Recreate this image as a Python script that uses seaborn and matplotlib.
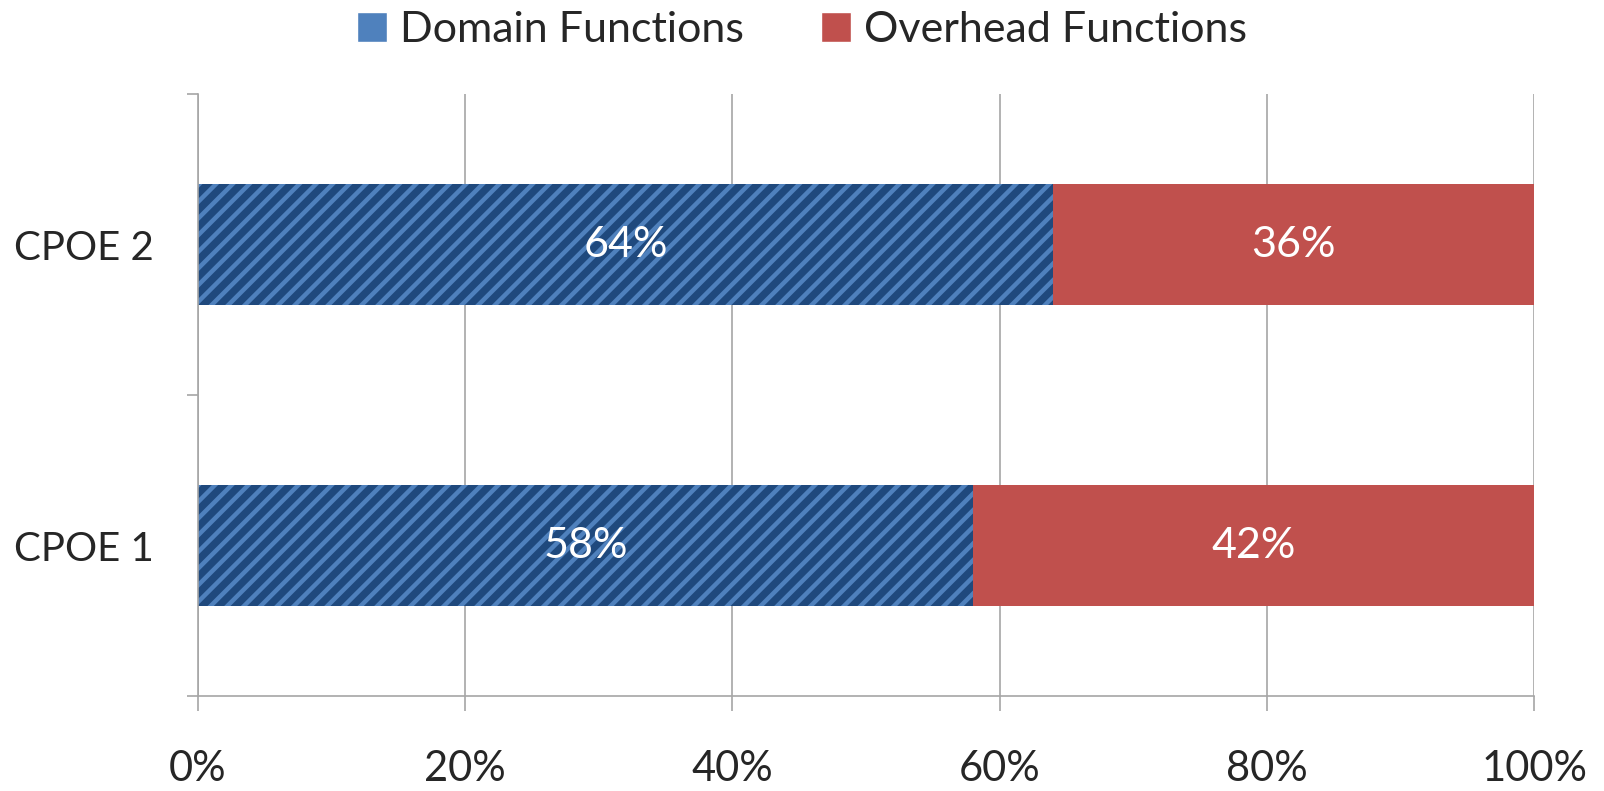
import matplotlib
matplotlib.use("Agg")
import matplotlib.pyplot as plt
import seaborn as sns
import pandas as pd
from matplotlib.patches import Patch
from matplotlib.ticker import FixedLocator, PercentFormatter

categories = ["CPOE 2", "CPOE 1"]
domain = [64, 58]
overhead = [36, 42]
series_names = ["Domain Functions", "Overhead Functions"]
xticks = [0, 20, 40, 60, 80, 100]

sns.set_style("white")
plt.rcParams["font.family"] = ["Lato", "DejaVu Sans"]
plt.rcParams["hatch.linewidth"] = 3.2

dark_blue = "#1f497d"
light_blue = "#4f81bd"
red = "#c0504d"
grid_grey = "#a6a6a6"

df = pd.DataFrame({"category": categories, "domain": domain, "overhead": overhead})
df["total"] = df["domain"] + df["overhead"]

fig = plt.figure(figsize=(16.04, 7.91), dpi=100)
ax = fig.add_axes([0.1234, 0.12, 0.833, 0.761])

# stacked: total (red) underneath, domain (hatched blue) over it
sns.barplot(data=df, y="category", x="total", order=categories, color=red,
            width=0.4, saturation=1, linewidth=0, ax=ax)
sns.barplot(data=df, y="category", x="domain", order=categories, color=dark_blue,
            width=0.4, saturation=1, linewidth=0, ax=ax)
for bar in ax.patches[len(categories):]:
    bar.set_hatch("//")
    bar.set_edgecolor(light_blue)
    bar.set_linewidth(0)

for i, (d, o) in enumerate(zip(domain, overhead)):
    ax.text(d / 2, i, f"{d}%", color="white", ha="center", va="center", fontsize=31)
    ax.text(d + o / 2, i, f"{o}%", color="white", ha="center", va="center", fontsize=31)

ax.set_xlim(0, 100)
ax.set_ylim(1.5, -0.5)
ax.set_xticks(xticks)
ax.xaxis.set_major_formatter(PercentFormatter(decimals=0))
ax.yaxis.set_minor_locator(FixedLocator([-0.5, 0.5, 1.5]))
ax.set_xlabel("")
ax.set_ylabel("")

ax.grid(axis="x", color=grid_grey, linewidth=1.2)
ax.set_axisbelow(True)
for side in ["top", "right"]:
    ax.spines[side].set_visible(False)
for side in ["left", "bottom"]:
    ax.spines[side].set_color(grid_grey)
    ax.spines[side].set_linewidth(1.2)

ax.tick_params(axis="x", which="major", direction="out", length=11, width=1.2,
               color=grid_grey, labelsize=30, pad=28, bottom=True)
ax.tick_params(axis="y", which="major", length=0, labelsize=29, pad=32)
ax.tick_params(axis="y", which="minor", direction="out", length=8, width=1.2,
               color=grid_grey, left=True)

handles = [Patch(facecolor=light_blue, label=series_names[0]),
           Patch(facecolor=red, label=series_names[1])]
fig.legend(handles=handles, loc="upper center", bbox_to_anchor=(0.5, 1.035), ncol=2,
           frameon=False, fontsize=31, handlelength=0.7, handleheight=0.7,
           handletextpad=0.3, columnspacing=1.8)

fig.savefig("out.png", dpi=100)
